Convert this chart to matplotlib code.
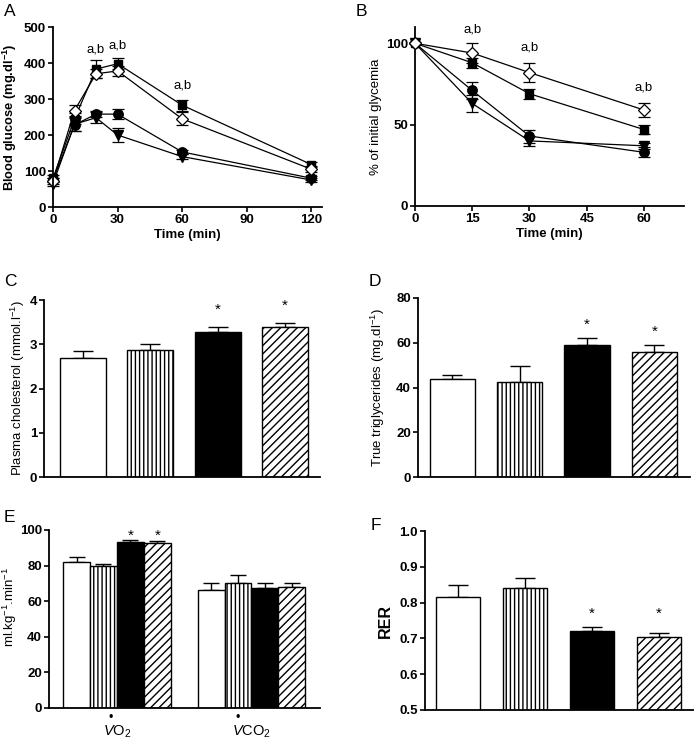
import matplotlib
matplotlib.use("Agg")
import matplotlib.pyplot as plt
import matplotlib.transforms as mtransforms
import numpy as np

plt.rcParams['font.family'] = ['Liberation Sans', 'DejaVu Sans']
plt.rcParams['mathtext.fontset'] = 'custom'
plt.rcParams['mathtext.rm'] = 'Liberation Sans'
plt.rcParams['mathtext.it'] = 'Liberation Sans:italic'
plt.rcParams['mathtext.bf'] = 'Liberation Sans:bold'
plt.rcParams['hatch.linewidth'] = 1.0

# ---------- Data ----------
# Panel A: glucose tolerance
timeA = [0, 10, 20, 30, 60, 120]
A_square = [80, 245, 383, 398, 283, 118]
A_square_err = [8, 15, 25, 15, 15, 8]
A_diamond = [72, 268, 370, 378, 245, 105]
A_diamond_err = [8, 15, 12, 15, 18, 8]
A_circle = [75, 228, 258, 258, 153, 80]
A_circle_err = [6, 18, 8, 13, 6, 5]
A_tri = [65, 230, 248, 200, 140, 75]
A_tri_err = [6, 20, 15, 20, 6, 5]
A_annot_x = [20, 30, 60]
A_annot_y = [422, 433, 320]

# Panel B: insulin tolerance
timeB = [0, 15, 30, 60]
B_diamond = [100, 94, 82, 59]
B_diamond_err = [0, 6, 6, 4]
B_square = [100, 88, 69, 47]
B_square_err = [0, 3, 3, 3]
B_circle = [100, 71, 43, 33]
B_circle_err = [0, 5, 4, 3]
B_tri = [100, 63, 40, 37]
B_tri_err = [0, 5, 3, 2]
B_annot_x = [15, 30, 60]
B_annot_y = [105, 94, 69]

# Bar panels (4 groups)
C_vals = [2.70, 2.88, 3.28, 3.38]
C_err = [0.15, 0.13, 0.12, 0.10]
C_star = [3.78, 3.88]
D_vals = [44, 42.5, 59, 56]
D_err = [1.5, 7, 3, 3]
D_star = [68, 65]
E_vo2 = [82, 80, 93, 92.5]
E_vo2_err = [3, 1, 1.5, 1.5]
E_vco2 = [66.5, 70.5, 67.5, 68]
E_vco2_err = [4, 4, 2.5, 2.5]
E_star = 96.5
E_labels = [r'$\mathit{V}$O$_2$', r'$\mathit{V}$CO$_2$']
F_vals = [0.815, 0.84, 0.722, 0.703]
F_err = [0.035, 0.03, 0.01, 0.012]
F_star = [0.77, 0.77]

fills = ['white', 'white', 'black', 'white']
hatches = [None, '||||', None, '////']

W, H = 697, 745
fig = plt.figure(figsize=(W / 100, H / 100), dpi=100)

def ax_at(l, r, b, t):
    return fig.add_axes([l / W, 1 - b / H, (r - l) / W, (b - t) / H])

def style(ax):
    ax.spines['top'].set_visible(False)
    ax.spines['right'].set_visible(False)
    ax.spines['left'].set_linewidth(1.3)
    ax.spines['bottom'].set_linewidth(1.3)
    ax.tick_params(width=1.2, length=3.5, pad=1.5, labelsize=9.5)
    for lbl in ax.get_xticklabels() + ax.get_yticklabels():
        lbl.set_fontweight('bold')

lkw = dict(color='black', lw=0.9, capsize=4, elinewidth=0.9, capthick=0.9, clip_on=False)

# ---------- A ----------
axA = ax_at(53, 322, 207, 27)
axA.errorbar(timeA, A_square, yerr=A_square_err, marker='s', ms=6.3, mfc='black', mec='black', **lkw)
axA.errorbar(timeA, A_circle, yerr=A_circle_err, marker='o', ms=6.8, mfc='black', mec='black', **lkw)
axA.errorbar(timeA, A_tri, yerr=A_tri_err, marker='v', ms=6.8, mfc='black', mec='black', **lkw)
axA.errorbar(timeA, A_diamond, yerr=A_diamond_err, marker='D', ms=6.3, mfc='white', mec='black', mew=0.9, **lkw)
axA.set_xlim(0, 125)
axA.set_ylim(0, 500)
axA.set_xticks([0, 30, 60, 90, 120])
axA.set_yticks([0, 100, 200, 300, 400, 500])
axA.set_xlabel('Time (min)', fontsize=9.5, fontweight='bold', labelpad=2)
axA.set_ylabel(r'Blood glucose (mg.dl$^{\mathbf{-1}}$)', fontsize=9.3, fontweight='bold')
axA.yaxis.set_label_coords(-0.128, 0.5)
for x, y in zip(A_annot_x, A_annot_y):
    axA.text(x, y, 'a,b', ha='center', va='bottom', fontsize=9.5, fontweight='normal')
style(axA)

# ---------- B ----------
axB = ax_at(415, 684, 206, 27)
axB.errorbar(timeB, B_diamond, yerr=B_diamond_err, marker='D', ms=6.3, mfc='white', mec='black', mew=0.9, zorder=3, **lkw)
axB.errorbar(timeB, B_square, yerr=B_square_err, marker='s', ms=6.3, mfc='black', mec='black', **lkw)
axB.errorbar(timeB, B_circle, yerr=B_circle_err, marker='o', ms=6.8, mfc='black', mec='black', **lkw)
axB.errorbar(timeB, B_tri, yerr=B_tri_err, marker='v', ms=6.8, mfc='black', mec='black', **lkw)
axB.set_xlim(0, 70.5)
axB.set_ylim(0, 110)
axB.set_xticks([0, 15, 30, 45, 60])
axB.set_yticks([0, 50, 100])
axB.set_xlabel('Time (min)', fontsize=9.5, fontweight='bold', labelpad=2)
axB.set_ylabel('% of initial glycemia', fontsize=9.5, fontweight='normal')
axB.yaxis.set_label_coords(-0.123, 0.5)
for x, y in zip(B_annot_x, B_annot_y):
    axB.text(x, y, 'a,b', ha='center', va='bottom', fontsize=9.5, fontweight='normal')
style(axB)

bkw = dict(edgecolor='black', linewidth=1.0)
ekw = dict(fmt='none', ecolor='black', elinewidth=1.0, capsize=7, capthick=1.0)

def bars4(ax, vals, err, width):
    x = np.arange(4)
    for i in range(4):
        ax.bar(x[i], vals[i], width, color=fills[i], hatch=hatches[i], **bkw, zorder=2)
        ax.errorbar(x[i], vals[i], yerr=[[0], [err[i]]], zorder=1, **ekw)
    ax.set_xticks([])

# ---------- C ----------
axC = ax_at(44, 320, 477, 300)
bars4(axC, C_vals, C_err, 0.68)
axC.set_xlim(-0.58, 3.52)
axC.set_ylim(0, 4)
axC.set_yticks([0, 1, 2, 3, 4])
axC.set_ylabel(r'Plasma cholesterol (mmol.l$^{-1}$)', fontsize=9.5, fontweight='normal')
axC.yaxis.set_label_coords(-0.062, 0.5)
for i, y in zip([2, 3], C_star):
    axC.text(i, y, '*', ha='center', va='center', fontsize=11, fontweight='normal')
style(axC)

# ---------- D ----------
axD = ax_at(418, 690, 477, 298)
bars4(axD, D_vals, D_err, 0.67)
axD.set_xlim(-0.51, 3.53)
axD.set_ylim(0, 80)
axD.set_yticks([0, 20, 40, 60, 80])
axD.set_ylabel(r'True triglycerides (mg.dl$^{-1}$)', fontsize=9.5, fontweight='normal')
axD.yaxis.set_label_coords(-0.114, 0.5)
for i, y in zip([2, 3], D_star):
    axD.text(i, y, '*', ha='center', va='center', fontsize=11, fontweight='normal')
style(axD)

# ---------- E ----------
axE = ax_at(49, 320, 708, 530)
bw = 0.2
offs = np.array([-1.5, -0.5, 0.5, 1.5]) * bw
for g, (vals, err) in enumerate([(E_vo2, E_vo2_err), (E_vco2, E_vco2_err)]):
    for i in range(4):
        axE.bar(g + offs[i], vals[i], bw, color=fills[i], hatch=hatches[i], **bkw, zorder=2)
        axE.errorbar(g + offs[i], vals[i], yerr=[[0], [err[i]]], zorder=1,
                     fmt='none', ecolor='black', elinewidth=1.0, capsize=6, capthick=1.0)
for i in [2, 3]:
    axE.text(0 + offs[i], E_star, '*', ha='center', va='center', fontsize=11, fontweight='normal')
axE.set_xlim(-0.505, 1.51)
axE.set_ylim(0, 100)
axE.set_yticks([0, 20, 40, 60, 80, 100])
axE.set_xticks([])
axE.set_ylabel(r'ml.kg$^{-1}$.min$^{-1}$', fontsize=9.5, fontweight='normal')
axE.yaxis.set_label_coords(-0.11, 0.567)
style(axE)
trE = mtransforms.blended_transform_factory(axE.transData, fig.transFigure)
for g, lab, dx in zip([0, 1], E_labels, [-0.045, -0.10]):
    axE.text(g, 1 - 732 / H, lab, transform=trE, ha='center', va='center', fontsize=10.5, fontweight='normal')
    axE.text(g + dx, 1 - 718 / H, u'\u2022', transform=trE, ha='center', va='center', fontsize=9)

# ---------- F ----------
axF = ax_at(425, 693, 710, 531)
bars4(axF, F_vals, F_err, 0.66)
axF.set_xlim(-0.49, 3.51)
axF.set_ylim(0.5, 1.0)
axF.set_yticks([0.5, 0.6, 0.7, 0.8, 0.9, 1.0])
axF.set_yticklabels(['0.5', '0.6', '0.7', '0.8', '0.9', '1.0'])
axF.set_ylabel('RER', fontsize=11.5, fontweight='bold')
axF.yaxis.set_label_coords(-0.119, 0.5)
for i, y in zip([2, 3], F_star):
    axF.text(i, y, '*', ha='center', va='center', fontsize=11, fontweight='normal')
style(axF)

# panel letters
for lab, x, y in [('A', 4, 12), ('B', 356, 12), ('C', 4, 281), ('D', 369, 281), ('E', 4, 518), ('F', 371, 525)]:
    fig.text(x / W, 1 - y / H, lab, fontsize=12.5, fontweight='normal', va='center', ha='left')

fig.savefig('out.png', dpi=100)
